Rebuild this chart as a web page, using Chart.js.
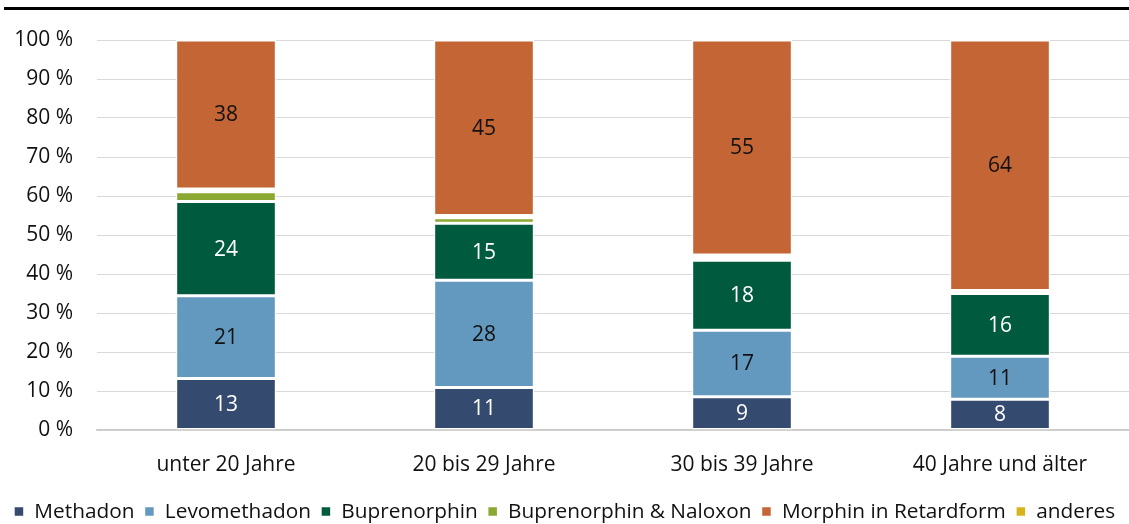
<!DOCTYPE html>
<html>
<head>
<meta charset="utf-8">
<script src="https://cdn.jsdelivr.net/npm/chart.js@4"></script>
<style>
  html, body { margin: 0; padding: 0; background: #fff; }
  #wrap { width: 1129px; height: 524px; position: relative; }
</style>
</head>
<body>
<div id="wrap"><canvas id="chart"></canvas></div>
<script>
const categories = ["unter 20 Jahre", "20 bis 29 Jahre", "30 bis 39 Jahre", "40 Jahre und älter"];
const methadon = [13.2, 10.9, 8.5, 7.9];
const levomethadon = [21.2, 27.5, 17.1, 11.0];
const buprenorphin = [24.2, 14.6, 17.9, 16.1];
const buprNaloxon = [2.5, 1.4, 0.8, 0.3];
const morphin = [38.2, 45.0, 55.1, 64.2];
const anderes = [0.7, 0.6, 0.6, 0.5];
const yTicks = [0, 10, 20, 30, 40, 50, 60, 70, 80, 90, 100];

const FONT = "'Open Sans', 'Noto Sans', sans-serif";

// order: Morphin is stacked on top, "anderes" sits just below it
const seriesList = [
  { label: "Methadon", data: methadon, color: "#344a6e", text: "#ffffff", show: true, order: 0 },
  { label: "Levomethadon", data: levomethadon, color: "#6399bf", text: "#111111", show: true, order: 0 },
  { label: "Buprenorphin", data: buprenorphin, color: "#005a3e", text: "#ffffff", show: true, order: 0 },
  { label: "Buprenorphin & Naloxon", data: buprNaloxon, color: "#8ba832", text: "#111111", show: false, order: 0 },
  { label: "Morphin in Retardform", data: morphin, color: "#c46535", text: "#111111", show: true, order: 1 },
  { label: "anderes", data: anderes, color: "#d8b41c", text: "#111111", show: false, order: 0 }
];

const segmentLabels = {
  id: "segmentLabels",
  afterInit(chart) {
    // pull the legend a bit closer to the bottom edge
    const lg = chart.legend;
    if (lg && !lg._patched) {
      const fit = lg.fit.bind(lg);
      lg.fit = function () { fit(); this.height -= 8; };
      lg._patched = true;
    }
  },
  beforeDraw(chart) {
    const ctx = chart.ctx;
    ctx.save();
    ctx.fillStyle = "#000";
    ctx.fillRect(4, 7, chart.width - 4, 3);
    ctx.restore();
  },
  afterDatasetsDraw(chart) {
    const ctx = chart.ctx;
    ctx.save();
    ctx.font = "21px " + FONT;
    ctx.textAlign = "center";
    ctx.textBaseline = "middle";
    chart.data.datasets.forEach((ds, i) => {
      if (!seriesList[i].show) return;
      const meta = chart.getDatasetMeta(i);
      meta.data.forEach((bar, j) => {
        ctx.fillStyle = seriesList[i].text;
        ctx.fillText(String(Math.round(ds.data[j])), bar.x, (bar.y + bar.base) / 2 + 1);
      });
    });
    ctx.restore();
  }
};

new Chart(document.getElementById("chart"), {
  type: "bar",
  data: {
    labels: categories,
    datasets: seriesList.map((s) => ({
      label: s.label,
      data: s.data,
      order: s.order,
      backgroundColor: s.color,
      borderColor: "#ffffff",
      borderWidth: 1.5,
      borderSkipped: false,
      barPercentage: 0.39,
      categoryPercentage: 1
    }))
  },
  options: {
    responsive: true,
    maintainAspectRatio: false,
    animation: false,
    layout: { padding: { top: 40, right: 0, left: 0, bottom: 0 } },
    plugins: {
      legend: {
        position: "bottom",
        labels: {
          color: "#111",
          font: { family: FONT, size: 20.8 },
          boxWidth: 10,
          boxHeight: 10,
          padding: 10,
          sort: (a, b) => a.datasetIndex - b.datasetIndex
        }
      },
      tooltip: { enabled: false }
    },
    scales: {
      x: {
        stacked: true,
        grid: { display: false },
        border: { color: "#c8c8c8", width: 1.5 },
        ticks: { color: "#111", font: { family: FONT, size: 21 }, padding: 14 }
      },
      y: {
        stacked: true,
        min: 0,
        max: 100,
        afterBuildTicks(scale) {
          scale.ticks = yTicks.map((v) => ({ value: v }));
        },
        afterFit(scale) {
          scale.width = 97;
        },
        grid: { color: "#d9d9d9", drawTicks: false },
        border: { display: false },
        ticks: {
          color: "#111",
          padding: 24,
          font: { family: FONT, size: 21 },
          callback(v) { return v + " %"; }
        }
      }
    }
  },
  plugins: [segmentLabels]
});
</script>
</body>
</html>
